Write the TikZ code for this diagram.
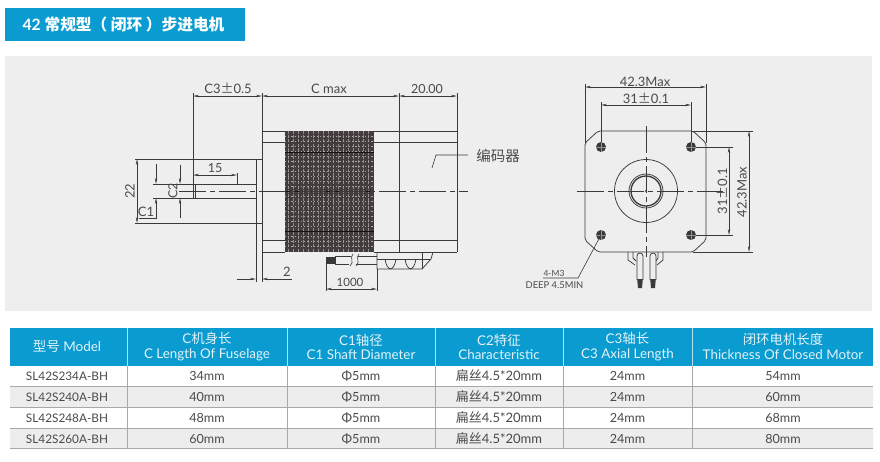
\documentclass[tikz,border=0pt]{standalone}
\usepackage{fontspec}
\setmainfont{Lato}
\newfontfamily\cjk{Noto Sans CJK SC}
\usetikzlibrary{arrows.meta}
\definecolor{hdr}{HTML}{0A9BD0}
\definecolor{pan}{HTML}{EEEEEE}
\definecolor{ink}{HTML}{3A3A3A}
\definecolor{txt}{HTML}{4A4A4A}
\definecolor{rowg}{HTML}{EDEDED}
\definecolor{rule}{HTML}{A8A8A8}
\definecolor{core}{HTML}{443C3C}
\newcommand{\zh}[1]{{\cjk #1}}
\newcommand{\plusminus}{{\cjk ±}}
\tikzset{
  part/.style={draw=ink,line width=0.75pt},
  thick part/.style={draw=ink,line width=1pt},
  dimline/.style={draw=ink,line width=0.6pt,{Stealth[length=6pt,width=2.4pt]}-{Stealth[length=6pt,width=2.4pt]}},
  dimone/.style={draw=ink,line width=0.6pt,-{Stealth[length=6pt,width=2.4pt]}},
  centre/.style={draw=ink,line width=0.7pt,dash pattern=on 27pt off 4pt on 5pt off 4pt},
  dimtext/.style={text=txt,font=\fontsize{13}{14}\selectfont,inner sep=0pt},
  cellt/.style={text=txt,font=\fontsize{12.6}{14}\selectfont,inner sep=0pt},
  headt/.style={text=white!88!hdr,font=\fontsize{13.4}{14.5}\selectfont,align=center,inner sep=0pt},
}
\begin{document}
\begin{tikzpicture}[x=1pt,y=-1pt]
\useasboundingbox (0,0) rectangle (880,461);
\fill[white] (0,0) rectangle (880,461);
% title
\fill[hdr] (5,8) rectangle (245,41);
\node[text=white,font=\bfseries\fontsize{15.7}{16}\selectfont,inner sep=0pt] (title) at (123.5,25) {42 \zh{常规型（ 闭环 ）步进电机}};
% panel
\fill[pan] (5,56) rectangle (872,311);
% stator
\fill[core] (285,131) rectangle (374,252);
\begin{scope}
\clip (285,131) rectangle (374,252);
\foreach \x in {288,293,...,372} \draw[white!42!core,line width=0.8pt,dash pattern=on 3pt off 1.2pt] (\x,131) -- (\x,252);
\foreach \y in {136,141,...,250} \draw[white!55!core,line width=0.5pt,dash pattern=on 1.2pt off 2pt] (285,\y) -- (374,\y);
\end{scope}
\foreach \y in {152,191,231} \draw[black!70!core,line width=0.9pt] (285,\y) -- (374,\y);
% side view body
\draw[part] (262,131) -- (285,131) (262,252) -- (285,252)
  (262,142) -- (285,142) (262,240) -- (285,240);
\draw[part] (374,131) -- (457,131) (374,252) -- (457,252)
  (374,142) -- (457,142) (374,240) -- (457,240);
\draw[thick part] (262,93) -- (262,282);
\draw[part] (256,159) -- (256,282);
\draw[part] (399,93) -- (399,252) (457,93) -- (457,252);
\draw[part] (135,159) -- (262,159) (135,223) -- (262,223);
% shaft
\draw[part] (153,184) -- (256,184) (153,198) -- (256,198);
\draw[thick part] (179,184) -- (237,184) (179,198) -- (195,198);
\draw[thick part] (195,184) -- (195,198);
\draw[part] (193,93) -- (193,198);
\draw[part] (237,173) -- (237,185);
\draw[centre] (179,191) -- (468,191);
% dims side view
\draw[dimline] (193,96) -- (262,96);
\node[dimtext] (c3) at (228,88.5) {C3\plusminus0.5};
\draw[dimline] (262,96) -- (399,96);
\node[dimtext] (cmax) at (329,89) {C max};
\draw[dimline] (399,96) -- (457,96);
\node[dimtext,font=\fontsize{12.5}{13}\selectfont] (d20) at (427,89) {20.00};
\draw[dimline] (193,175) -- (237,175);
\node[dimtext,font=\fontsize{12.5}{13}\selectfont] (d15) at (215,168.5) {15};
\draw[dimline] (137,159) -- (137,223);
\node[dimtext,rotate=90] (d22) at (130,191) {22};
\draw[dimone] (156,164) -- (156,184);
\draw[dimone] (156,218) -- (156,198);
\draw[part,line width=0.6pt] (139,218) -- (157,218);
\node[dimtext] (c1) at (146,212) {C1};
\draw[dimone] (180,165) -- (180,184);
\draw[dimone] (180,218) -- (180,198);
\node[dimtext,rotate=90,font=\fontsize{12.5}{13}\selectfont] (c2) at (173,191) {C2};
\draw[dimone] (237,279) -- (256,279);
\draw[dimone] (292,279) -- (262,279);
\node[dimtext] (d2) at (287,272) {2};
% encoder leader
\node[text=txt,font=\fontsize{14.5}{15}\selectfont\cjk,inner sep=0pt] (enc) at (498,156) {编码器};
\draw[part,line width=0.6pt] (432,168) -- (436,155) -- (468,155);
% connector side
\draw[part] (377,252) -- (377,269) -- (422,269) -- (431,259) -- (433,252);
\draw[part] (422,252) -- (422,269);
\draw[part] (385,259) .. controls (387,272) and (394,272) .. (396,259);
\draw[part] (405,259) .. controls (407,272) and (414,272) .. (416,259);
\draw[part] (377,259) -- (431,259);
\draw[part] (335,256) -- (351,256) (358,256) -- (377,256)
  (335,264) -- (349,264) (356,264) -- (377,264);
\draw[part,line width=0.6pt] (353,254) .. controls (349,258) and (355,262) .. (350,266);
\draw[part,line width=0.6pt] (359,254) .. controls (355,258) and (361,262) .. (356,266);
\fill[ink] (326,256.5) rectangle (336,263.5);
\draw[part,line width=0.6pt] (326,262) -- (326,291) (377,269) -- (377,291);
\draw[dimline] (326,289) -- (377,289);
\node[dimtext,font=\fontsize{11.5}{12}\selectfont] (d1000) at (350,282) {1000};
% front view
\draw[part,rounded corners=2pt] (598,131) -- (693,131) -- (706,143) -- (706,240) -- (693,252) -- (598,252) -- (585,240) -- (585,143) -- cycle;
\draw[part] (693,131) -- (753,131) (693,252) -- (753,252);
\draw[part] (585,84) -- (585,143) (706,84) -- (706,143);
\draw[part] (601,102) -- (601,147) (691,102) -- (691,147);
\draw[part] (691,147) -- (733,147) (691,235) -- (733,235);
\draw[dimline] (585,87) -- (706,87);
\node[dimtext] (w423) at (645,81.5) {42.3Max};
\draw[dimline] (601,105) -- (691,105);
\node[dimtext] (w31) at (646,98) {31\plusminus0.1};
\draw[dimline] (749,131) -- (749,252);
\node[dimtext,rotate=90] (h423) at (742,192) {42.3Max};
\draw[dimline] (729,147) -- (729,235);
\node[dimtext,rotate=90] (h31) at (722,191) {31\plusminus0.1};
\draw[part] (646,191) circle[radius=31.5pt];
\draw[part] (646,191) circle[radius=17pt];
\draw[thick part,line width=1.3pt] (646,191) circle[radius=15pt];
\draw[centre] (577,191) -- (723,191);
\draw[centre] (646,126) -- (646,257);
\fill[ink] (646,191) circle[radius=1.2pt];
\foreach \hx/\hy in {601/147,691/147,601/235,691/235}{
  \fill[ink] (\hx,\hy) circle[radius=5pt];
  \draw[white!45!ink,line width=0.5pt] (\hx-5,\hy) -- (\hx+5,\hy) (\hx,\hy-5) -- (\hx,\hy+5);
}
\draw[part,line width=0.6pt] (601,235) -- (578,278) -- (543,278);
\node[text=txt,font=\fontsize{8.5}{9}\selectfont,inner sep=0pt] (m3) at (554,273.5) {4-M3};
\node[text=txt,font=\fontsize{9.4}{10}\selectfont,inner sep=0pt] (deep) at (554.5,285.5) {DEEP 4.5MIN};
% front connector
\draw[part] (628,252) -- (628,260) -- (635,265) (663,252) -- (663,260) -- (657,265);
\draw[part] (633,252) -- (633,258) -- (636,261) (658,252) -- (658,258) -- (656,261);
\foreach \wx in {640,653}{
  \fill[pan] (\wx-3,254) rectangle (\wx+3,280);
  \draw[part] (\wx-3,280) -- (\wx-3,256) arc[start angle=180,end angle=0,radius=3pt] -- (\wx+3,280);
  \fill[ink] (\wx-2.8,279) -- (\wx+2.8,279) -- (\wx+2,288) -- (\wx-2,288) -- cycle;
}
% table
\fill[hdr] (10,328) rectangle (873,366);
\fill[rowg] (10,386) rectangle (873,407) (10,428) rectangle (873,448);
\foreach \y in {386,407,428,448} \draw[rule,line width=0.7pt] (10,\y) -- (873,\y);
\foreach \x in {127,287.5,435,563,692} {
  \draw[white!70!hdr,line width=0.7pt] (\x,328) -- (\x,366);
  \draw[rule,line width=0.7pt] (\x,366) -- (\x,448);
}
\node[headt,font=\fontsize{13.5}{15}\selectfont] (h1) at (67,346.5) {\zh{型号} Model};
\node[headt] (h2) at (207,346.5) {C\zh{机身长}\\C Length Of Fuselage};
\node[headt] (h3) at (361,347) {C1\zh{轴径}\\C1 Shaft Diameter};
\node[headt] (h4) at (499,347) {C2\zh{特征}\\Characteristic};
\node[headt] (h5) at (627.5,346.5) {C3\zh{轴长}\\C3 Axial Length};
\node[headt] (h6) at (783,346.5) {\zh{闭环电机长度}\\Thickness Of Closed Motor};
\foreach \r/\yy/\m/\cc/\tt in {1/376/SL42S234A-BH/34mm/54mm,2/397/SL42S240A-BH/40mm/60mm,3/418/SL42S248A-BH/48mm/68mm,4/439/SL42S260A-BH/60mm/80mm}{
  \node[cellt,font=\fontsize{11.8}{13}\selectfont] (m\r) at (67,\yy) {\m};
  \node[cellt] (c\r) at (207,\yy) {\cc};
  \node[cellt] (s\r) at (361,\yy) {Φ5mm};
  \node[cellt,font=\fontsize{13}{14}\selectfont] (f\r) at (499,\yy) {\zh{扁丝}4.5*20mm};
  \node[cellt] (a\r) at (627.5,\yy) {24mm};
  \node[cellt] (t\r) at (783,\yy) {\tt};
}
\end{tikzpicture}
\end{document}
